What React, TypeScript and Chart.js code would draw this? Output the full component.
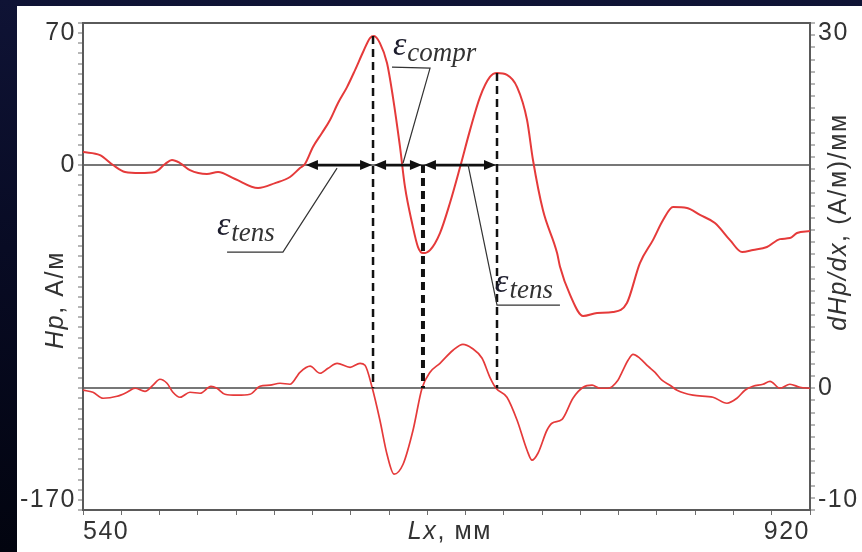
import { useEffect, useRef } from 'react';
import { Chart, registerables } from 'chart.js';

Chart.register(...registerables);

// ---- Data ----
// Upper curve: Hp, A/m (left axis) vs Lx, mm
const hpX = [540, 548.9, 555.7, 562.0, 569.8, 577.6, 582.9, 586.5, 590.7, 595.9, 604.8, 610.6, 619.5, 631.5, 640.4, 648.2, 653.4, 656.0, 660.2, 664.9, 669.1, 673.3, 678.0, 682.2, 686.4, 690.0, 692.1, 695.2, 698.9, 702.0, 705.7, 708.3, 712.0, 715.1, 717.7, 721.4, 726.6, 731.8, 737.1, 742.3, 747.5, 752.7, 756.4, 761.6, 766.9, 772.1, 775.2, 780.4, 787.8, 789.3, 794.6, 801.4, 808.7, 817.0, 824.3, 831.1, 837.9, 843.2, 848.4, 855.7, 862.5, 870.3, 878.2, 884.5, 890.2, 897.5, 904.3, 909.5, 913.2, 920.0];
const hpY = [6.4, 4.9, 0, -3.4, -3.9, -3.4, 0.5, 2.5, 1.0, -2.5, -4.4, -3.4, -6.9, -11.3, -8.9, -5.9, -1.5, 0.5, 8.9, 15.8, 22.2, 30.6, 38.4, 46.8, 55.7, 62.6, 63.6, 60.1, 50.3, 33.5, 8.9, -10.8, -28.6, -40.4, -43.4, -41.9, -33.5, -18.7, -1.0, 17.2, 33.5, 43.4, 45.3, 44.4, 38.4, 22.2, 2.5, -22.2, -43.4, -50.0, -64.0, -74.4, -72.9, -72.4, -68.0, -48.3, -37.0, -27.1, -20.7, -21.2, -24.6, -28.6, -37.0, -42.9, -41.9, -40.4, -36.5, -36.0, -33.5, -32.5];

// Lower curve: dHp/dx, (A/m)/mm (right axis) vs Lx, mm
const dhX = [540, 545.2, 550.5, 557.8, 563.0, 567.2, 572.4, 576.6, 580.2, 583.9, 587.0, 590.7, 595.9, 601.2, 606.9, 610.0, 614.2, 620.5, 627.3, 632.5, 637.7, 643.0, 648.2, 653.4, 658.7, 663.9, 668.1, 672.8, 679.6, 684.8, 687.4, 691.1, 695.2, 698.9, 702.6, 707.3, 712.5, 717.2, 721.4, 726.6, 733.4, 738.6, 743.3, 748.6, 752.7, 755.9, 761.6, 766.9, 772.1, 774.7, 777.8, 782.5, 785.1, 790.4, 796.1, 801.4, 806.1, 810.2, 814.4, 819.6, 821.7, 824.9, 827.5, 831.1, 835.3, 839.0, 842.6, 846.8, 850.5, 858.8, 869.3, 876.6, 881.8, 886.0, 890.2, 895.4, 899.1, 904.3, 909.5, 914.8, 920.0];
const dhY = [-0.16, -0.33, -0.82, -0.66, -0.33, 0, -0.25, 0.25, 0.74, 0.41, -0.33, -0.74, -0.33, -0.41, 0.16, 0, -0.49, -0.57, -0.49, 0.16, 0.25, 0.41, 0.33, 1.31, 1.81, 1.23, 1.64, 2.05, 1.72, 2.05, 1.89, 0.08, -2.63, -5.42, -7.06, -6.24, -3.45, 0, 1.31, 2.05, 3.12, 3.61, 3.29, 2.46, 0.90, 0, -0.74, -2.63, -5.09, -5.91, -5.34, -3.45, -2.87, -2.55, -0.82, 0.08, 0.25, 0, 0, 0.66, 1.31, 2.30, 2.79, 2.46, 1.81, 1.31, 0.66, 0.25, -0.16, -0.57, -0.74, -1.23, -0.82, -0.16, 0.16, 0.33, 0.57, 0, 0.33, 0.08, 0];

// Tick labels
const xTickLabels = [540, 920];
const hpTickLabels = [70, 0, -170];
const dhTickLabels = [30, 0, -10];

// Annotations (data units)
const markerX = [691.6, 717.7, 756.4];
const markerTopHp = [63.6, 0, 45.3];
const arrowFrom = [656.0, 691.6, 717.7];
const arrowTo = [691.6, 717.7, 756.4];
const epsNames = ['tens', 'compr', 'tens'];
const epsX = [610.0, 702.0, 755.4];
const epsHp = [-34.5, 54.2, -62.6];
const leaderX = [[615.3, 644.5, 672.8], [701.5, 721.4, 707.3], [741.2, 756.4, 789.3]];
const leaderHp = [[-42.9, -42.9, -1.5], [48.3, 47.8, 1.0], [0.5, -69.0, -69.0]];

const RED = '#e53a3a';
const AXIS = '#5a5a5a';
const TEXT = '#333333';
const TICK = '#6e6e6e';

type Seg = { t: string; it: boolean };

function drawRich(ctx: CanvasRenderingContext2D, segs: Seg[], size: number, cx: number, cy: number, rot: number) {
  ctx.save();
  ctx.letterSpacing = '1.6px';
  ctx.fillStyle = TEXT;
  ctx.textBaseline = 'alphabetic';
  ctx.textAlign = 'left';
  const fam = '"Liberation Sans", Arial, sans-serif';
  let total = 0;
  const widths = segs.map((s) => {
    ctx.font = `${s.it ? 'italic ' : ''}${size}px ${fam}`;
    const w = ctx.measureText(s.t).width;
    total += w;
    return w;
  });
  ctx.translate(cx, cy);
  ctx.rotate(rot);
  let px = -total / 2;
  segs.forEach((s, i) => {
    ctx.font = `${s.it ? 'italic ' : ''}${size}px ${fam}`;
    ctx.fillText(s.t, px, 0);
    px += widths[i];
  });
  ctx.restore();
}

const spacingPlugin = {
  id: 'spacing',
  beforeDraw(chart: any) {
    chart.ctx.letterSpacing = '1.5px';
  },
  afterDraw(chart: any) {
    chart.ctx.letterSpacing = '0px';
  },
};

const framePlugin = {
  id: 'frameAndTitles',
  afterDraw(chart: any) {
    const { ctx, chartArea: a } = chart;
    ctx.save();
    ctx.strokeStyle = AXIS;
    ctx.lineWidth = 2;
    ctx.beginPath();
    ctx.moveTo(a.left, a.top);
    ctx.lineTo(a.right, a.top);
    ctx.stroke();
    ctx.restore();
    drawRich(ctx, [{ t: 'Hp', it: true }, { t: ', А/м', it: false }], 25, a.left - 20, a.top + 277, -Math.PI / 2);
    drawRich(ctx, [{ t: 'dHp/dx', it: true }, { t: ', (А/м)/мм', it: false }], 25, a.right + 36, a.top + 199, -Math.PI / 2);
    drawRich(ctx, [{ t: 'Lx', it: true }, { t: ', мм', it: false }], 25, a.left + 367, a.bottom + 29, 0);
  },
};

const annotationPlugin = {
  id: 'annot',
  afterDatasetsDraw(chart: any) {
    const { ctx } = chart;
    const { x, y, y1 } = chart.scales;
    ctx.save();
    ctx.letterSpacing = '0px';
    ctx.strokeStyle = '#111';
    ctx.fillStyle = '#111';
    // dashed verticals
    markerX.forEach((mx, i) => {
      const px = x.getPixelForValue(mx);
      ctx.lineWidth = i === 1 ? 4 : 2.5;
      ctx.setLineDash([8, 5]);
      ctx.beginPath();
      ctx.moveTo(px, y.getPixelForValue(markerTopHp[i]));
      ctx.lineTo(px, y1.getPixelForValue(0));
      ctx.stroke();
    });
    ctx.setLineDash([]);
    // double arrows
    const ay = y.getPixelForValue(0);
    const head = (tip: number, dir: number) => {
      ctx.beginPath();
      ctx.moveTo(tip, ay);
      ctx.lineTo(tip - dir * 12, ay - 5);
      ctx.lineTo(tip - dir * 12, ay + 5);
      ctx.closePath();
      ctx.fill();
    };
    arrowFrom.forEach((a, i) => {
      const p0 = x.getPixelForValue(a);
      const p1 = x.getPixelForValue(arrowTo[i]);
      ctx.lineWidth = 2.8;
      ctx.beginPath();
      ctx.moveTo(p0 + 6, ay);
      ctx.lineTo(p1 - 6, ay);
      ctx.stroke();
      head(p0 + 1, -1);
      head(p1 - 1, 1);
    });
    // leaders + underlines
    ctx.strokeStyle = '#333';
    ctx.lineWidth = 1.2;
    leaderX.forEach((lx, i) => {
      ctx.beginPath();
      lx.forEach((v, j) => {
        const px = x.getPixelForValue(v);
        const py = y.getPixelForValue(leaderHp[i][j]);
        if (j === 0) ctx.moveTo(px, py);
        else ctx.lineTo(px, py);
      });
      ctx.stroke();
    });
    // epsilon labels
    ctx.textBaseline = 'alphabetic';
    ctx.textAlign = 'left';
    epsNames.forEach((name, i) => {
      const px = x.getPixelForValue(epsX[i]);
      const py = y.getPixelForValue(epsHp[i]);
      ctx.fillStyle = '#1c1c2c';
      ctx.font = 'italic 34px "Liberation Serif", "Times New Roman", serif';
      ctx.fillText('ε', px, py);
      const w = ctx.measureText('ε').width;
      ctx.fillStyle = '#333';
      ctx.font = 'italic 27px "Liberation Serif", "Times New Roman", serif';
      ctx.fillText(name, px + w + 1, py + 6);
    });
    ctx.restore();
  },
};

export default function App() {
  const ref = useRef<HTMLCanvasElement | null>(null);

  useEffect(() => {
    if (!ref.current) return;
    const tickFont = { family: '"Liberation Sans", Arial, sans-serif', size: 25, lineHeight: '20px' };
    const chart = new Chart(ref.current, {
      type: 'line',
      data: {
        datasets: [
          {
            label: 'Hp',
            data: hpX.map((v, i) => ({ x: v, y: hpY[i] })),
            yAxisID: 'y',
            borderColor: RED,
            borderWidth: 2,
            pointRadius: 0,
            cubicInterpolationMode: 'monotone',
          },
          {
            label: 'dHp/dx',
            data: dhX.map((v, i) => ({ x: v, y: dhY[i] })),
            yAxisID: 'y1',
            borderColor: RED,
            borderWidth: 1.7,
            pointRadius: 0,
            cubicInterpolationMode: 'monotone',
          },
        ],
      },
      options: {
        animation: false,
        responsive: false,
        devicePixelRatio: 1,
        layout: { padding: { top: 17, left: 0, right: 0, bottom: 0 } },
        plugins: { legend: { display: false }, tooltip: { enabled: false } },
        scales: {
          x: {
            type: 'linear',
            position: 'bottom',
            min: 540,
            max: 920,
            border: { display: true, color: AXIS, width: 2 },
            grid: { drawOnChartArea: false, drawTicks: true, tickLength: 5, tickColor: TICK, tickWidth: 1 },
            ticks: {
              stepSize: 20,
              autoSkip: false,
              maxRotation: 0,
              align: 'inner',
              padding: 2,
              color: TEXT,
              font: { family: '"Liberation Sans", Arial, sans-serif', size: 25 },
              callback: (v: any) => {
                const n = Math.round(Number(v));
                return xTickLabels.includes(n) ? String(n) : '';
              },
            },
            afterFit: (s: any) => {
              s.height = 42;
              s.paddingLeft = 0;
              s.paddingRight = 0;
            },
          },
          y: {
            type: 'linear',
            position: 'left',
            min: -170,
            max: 70,
            border: { display: true, color: AXIS, width: 2 },
            grid: {
              drawOnChartArea: true,
              color: (c: any) => (c.tick && c.tick.value === 0 ? '#777777' : 'rgba(0,0,0,0)'),
              lineWidth: 2,
              tickLength: 5,
              tickColor: TICK,
              tickWidth: 1,
            },
            ticks: {
              stepSize: 5,
              autoSkip: false,
              padding: 2,
              color: TEXT,
              font: tickFont,
              callback: (v: any) => {
                const n = Math.round(Number(v));
                if (n === hpTickLabels[0]) return ['', String(n)];
                if (n === hpTickLabels[2]) return [String(n), ''];
                return hpTickLabels.includes(n) ? String(n) : '';
              },
            },
            afterFit: (s: any) => {
              s.width = 66;
              s.paddingTop = 0;
              s.paddingBottom = 0;
            },
          },
          y1: {
            type: 'linear',
            position: 'right',
            min: -10,
            max: 30,
            border: { display: true, color: AXIS, width: 2 },
            grid: {
              drawOnChartArea: true,
              color: (c: any) => (c.tick && c.tick.value === 0 ? '#777777' : 'rgba(0,0,0,0)'),
              lineWidth: 2,
              tickLength: 5,
              tickColor: TICK,
              tickWidth: 1,
            },
            ticks: {
              stepSize: 1,
              autoSkip: false,
              padding: 3,
              color: TEXT,
              font: tickFont,
              callback: (v: any) => {
                const n = Math.round(Number(v));
                if (n === dhTickLabels[0]) return ['', String(n)];
                if (n === dhTickLabels[2]) return [String(n), ''];
                return dhTickLabels.includes(n) ? String(n) : '';
              },
            },
            afterFit: (s: any) => {
              s.width = 52;
              s.paddingTop = 0;
              s.paddingBottom = 0;
            },
          },
        },
      } as any,
      plugins: [spacingPlugin, annotationPlugin, framePlugin],
    });
    return () => chart.destroy();
  }, []);

  return (
    <div
      style={{
        position: 'fixed',
        left: 0,
        top: 0,
        width: 862,
        height: 552,
        background: 'linear-gradient(180deg, #0f1335 0%, #080b24 45%, #02040f 100%)',
        overflow: 'hidden',
      }}
    >
      <div style={{ position: 'absolute', left: 17, top: 6, width: 845, height: 546, background: '#ffffff' }}>
        <canvas ref={ref} width={845} height={546} style={{ display: 'block', width: 845, height: 546 }} />
      </div>
    </div>
  );
}
